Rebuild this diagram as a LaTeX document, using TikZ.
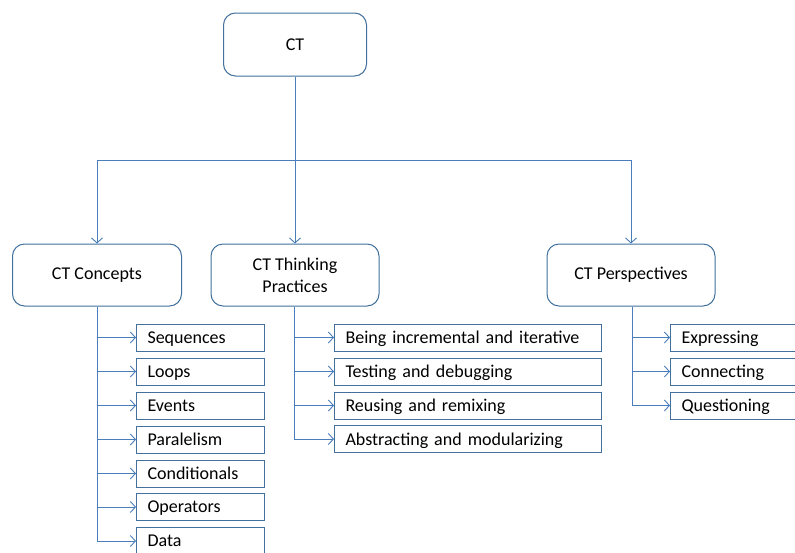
\documentclass[tikz,border=0pt]{standalone}
\usepackage{fontspec}
\setmainfont{Carlito}
\usetikzlibrary{arrows.meta}
\definecolor{boxc}{HTML}{41719C}
\definecolor{linec}{HTML}{4A7EBB}
\begin{document}
\begin{tikzpicture}[x=1pt,y=-1pt,font=\fontsize{18}{22}\selectfont,
  main/.style={draw=boxc,line width=1pt,rounded corners=12pt,minimum height=62pt,align=center,inner sep=0pt},
  leaf/.style={draw=boxc,line width=1pt,anchor=west,minimum height=27pt,inner xsep=11pt,inner ysep=0pt,align=left,text depth=0pt},
  conn/.style={draw=linec,line width=0.9pt},
  arr/.style={conn,-{Straight Barb[length=5pt,width=11pt]}}]
\useasboundingbox (0,0) rectangle (795,552);
\clip (0,0) rectangle (795,552);
\fill[white] (0,0) rectangle (795,552);
% main nodes
\node[main,minimum width=143pt,minimum height=63pt] (ct) at (295,44.5) {CT};
\node[main,minimum width=169pt] (concepts) at (97,275) {CT Concepts};
\node[main,minimum width=168pt] (practices) at (295,275) {CT Thinking\\Practices};
\node[main,minimum width=168pt] (persp) at (631,275) {CT Perspectives};
% top connectors
\coordinate (hb) at (295,160);
\draw[conn] (ct.south) -- (hb);
\draw[arr] (hb) -| (concepts.north);
\draw[arr] (hb) -- (practices.north);
\draw[arr] (hb) -| (persp.north);
% concept leaves
\foreach \n/\t/\y in {c1/Sequences/337.5,c2/Loops/371.5,c3/Events/405.5,c4/Paralelism/439.5,c5/Conditionals/473.5,c6/Operators/507,c7/Data/541}
  \node[leaf,text width=106pt] (\n) at (136,\y) {\t};
\draw[conn] (concepts.south) -- (concepts.south |- c7.west);
\foreach \n in {c1,c2,c3,c4,c5,c6,c7}
  \draw[arr] (concepts.south |- \n.west) -- (\n.west);
% practice leaves
\foreach \n/\t/\y in {p1/Being incremental and iterative/337.5,p2/Testing and debugging/371.5,p3/Reusing and remixing/405.5,p4/Abstracting and modularizing/439}
  \node[leaf,text width=245pt] (\n) at (334,\y) {\t};
\draw[conn] (practices.south -| 294,0) coordinate (pv) -- (pv |- p4.west);
\foreach \n in {p1,p2,p3,p4}
  \draw[arr] (pv |- \n.west) -- (\n.west);
% perspective leaves
\foreach \n/\t/\y in {s1/Expressing/337.5,s2/Connecting/371.5,s3/Questioning/405.5}
  \node[leaf,text width=140pt] (\n) at (670,\y) {\t};
\draw[conn] (persp.south -| 632,0) coordinate (sv) -- (sv |- s3.west);
\foreach \n in {s1,s2,s3}
  \draw[arr] (sv |- \n.west) -- (\n.west);
\end{tikzpicture}
\end{document}
